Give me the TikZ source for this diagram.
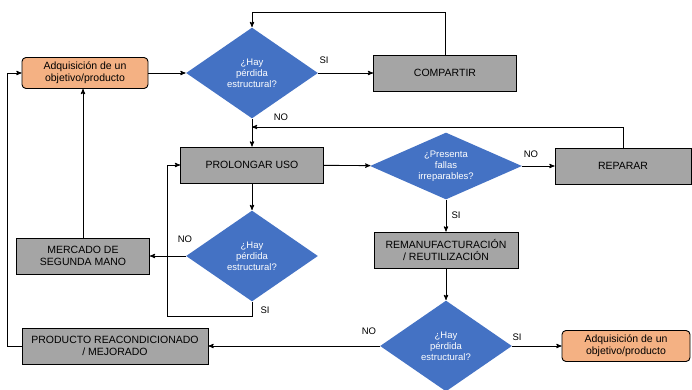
\documentclass[tikz,border=0pt]{standalone}
\usepackage{fontspec}
\setmainfont{Liberation Sans}
\usetikzlibrary{arrows,shapes.geometric,positioning}
\definecolor{naranja}{HTML}{F4B183}
\definecolor{azul}{HTML}{4472C4}
\definecolor{gris}{HTML}{A5A5A5}

\begin{document}
\begin{tikzpicture}[->,>=stealth',x=1pt,y=-1pt,line width=0.9pt,font=\fontsize{10.5}{12}\selectfont]
	\tikzstyle{proceso}=[rectangle,draw=black,fill=gris,text=black,align=center,minimum height=36pt]
	\tikzstyle{inicio}=[rectangle,rounded corners=4pt,draw=black,fill=naranja,text=black,align=center,minimum height=31pt]
	\tikzstyle{decision}=[diamond,draw=none,fill=azul,text=white,align=center,inner sep=0pt,minimum width=132pt,minimum height=91pt,font=\fontsize{9.5}{11}\selectfont]
	\tikzstyle{etiq}=[inner sep=0pt,font=\fontsize{9.5}{11}\selectfont]

	\useasboundingbox (0,0) rectangle (692,390);

	\node[inicio, minimum width=126pt]  (adq1) at (85,73)   {Adquisición de un\\objetivo/producto};
	\node[decision]                     (d1)   at (252,73)  {¿Hay\\pérdida\\estructural?};
	\node[proceso, minimum width=143pt] (comp) at (445,73)  {COMPARTIR};
	\node[proceso, minimum width=143pt] (prol) at (252,165) {PROLONGAR USO};
	\node[decision, aspect=2.27, minimum width=152pt, minimum height=67pt] (d2) at (446,166) {¿Presenta\\fallas\\irreparables?};
	\node[proceso, minimum width=136pt] (rep)  at (623,166) {REPARAR};
	\node[proceso, minimum width=144pt] (rem)  at (446,250) {REMANUFACTURACIÓN\\/ REUTILIZACIÓN};
	\node[decision]                     (d4)   at (252,256) {¿Hay\\pérdida\\estructural?};
	\node[proceso, minimum width=133pt] (merc) at (83,256)  {MERCADO DE\\SEGUNDA MANO};
	\node[decision]                     (d3)   at (446,346) {¿Hay\\pérdida\\estructural?};
	\node[proceso, minimum width=186pt] (prod) at (115,346) {PRODUCTO REACONDICIONADO\\/ MEJORADO};
	\node[inicio, minimum width=128pt]  (adq2) at (626,346) {Adquisición de un\\objetivo/producto};

	\coordinate (jn) at (252,127);

	% flechas
	\draw (adq1) -- (d1);
	\draw (d1) -- (comp);
	\draw (comp.north) -- ++(0,-42) -| (d1.north);
	\draw (d1) -- (prol);
	\draw[-] (rep.north) |- (jn);
	\draw (rep.north |- jn) -- (jn);
	\draw (prol) -- (d2);
	\draw (d2) -- (rep);
	\draw (d2) -- (rem);
	\draw (rem) -- (d3);
	\draw (d3) -- (adq2);
	\draw (d3) -- (prod);
	\draw (prod.west) -- ++(-14,0) |- (adq1.west);
	\draw (prol) -- (d4);
	\draw (d4) -- (merc);
	\draw (merc.north) -- (merc.north |- adq1.south);
	\draw (d4.south) -- ++(0,14) -| ([xshift=-13pt]prol.west) -- (prol.west);

	% etiquetas
	\node[etiq] (si1) at (324,60)  {SI};
	\node[etiq] (no1) at (281,117) {NO};
	\node[etiq] (no2) at (531,154) {NO};
	\node[etiq] (si2) at (456,215) {SI};
	\node[etiq] (no3) at (185,239) {NO};
	\node[etiq] (si3) at (265,310) {SI};
	\node[etiq] (no4) at (369,331) {NO};
	\node[etiq] (si4) at (517,337) {SI};
\end{tikzpicture}
\end{document}
